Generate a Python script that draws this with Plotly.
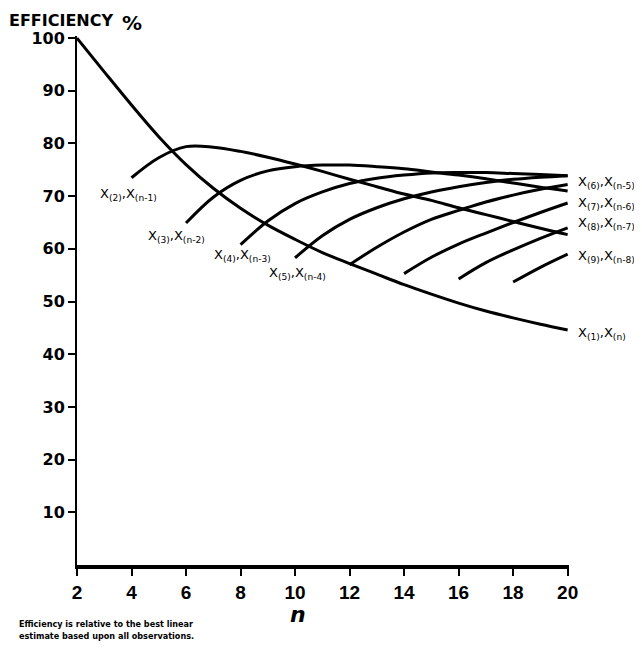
import plotly.graph_objects as go

# ---- data ----
n_x1 = list(range(2, 21))
eff_x1 = [100, 93.6, 87.3, 81.3, 76.0, 71.5, 67.7, 64.5, 61.8, 59.3, 57.2, 55.2,
          53.2, 51.4, 49.7, 48.2, 46.9, 45.7, 44.6]
n_x2 = list(range(4, 21))
eff_x2 = [73.5, 77.3, 79.4, 79.3, 78.5, 77.4, 76.1, 74.7, 73.2, 71.8, 70.4, 69.2,
          67.8, 66.5, 65.2, 63.9, 62.7]
n_x3 = list(range(6, 21))
eff_x3 = [64.9, 69.8, 73.0, 74.8, 75.6, 75.9, 75.9, 75.6, 75.2, 74.6, 74.0, 73.3,
          72.5, 71.7, 71.0]
n_x4 = list(range(8, 21))
eff_x4 = [60.8, 65.3, 68.6, 70.8, 72.4, 73.4, 74.0, 74.4, 74.5, 74.5, 74.3, 74.1, 73.9]
n_x5 = list(range(10, 21))
eff_x5 = [58.3, 62.5, 65.6, 67.8, 69.5, 70.8, 71.8, 72.6, 73.2, 73.6, 73.9]
n_x6 = list(range(12, 21))
eff_x6 = [57.0, 60.3, 63.2, 65.6, 67.3, 68.9, 70.2, 71.3, 72.2]
n_x7 = list(range(14, 21))
eff_x7 = [55.3, 58.4, 60.9, 63.0, 65.0, 66.9, 68.7]
n_x8 = list(range(16, 21))
eff_x8 = [54.3, 57.4, 59.8, 62.0, 64.0]
n_x9 = list(range(18, 21))
eff_x9 = [53.7, 56.5, 59.0]

series_names = ["X(1),X(n)", "X(2),X(n-1)", "X(3),X(n-2)", "X(4),X(n-3)", "X(5),X(n-4)",
                "X(6),X(n-5)", "X(7),X(n-6)", "X(8),X(n-7)", "X(9),X(n-8)"]

x_ticks = [2, 4, 6, 8, 10, 12, 14, 16, 18, 20]
y_ticks = [10, 20, 30, 40, 50, 60, 70, 80, 90, 100]

series = [(n_x1, eff_x1), (n_x2, eff_x2), (n_x3, eff_x3), (n_x4, eff_x4), (n_x5, eff_x5),
          (n_x6, eff_x6), (n_x7, eff_x7), (n_x8, eff_x8), (n_x9, eff_x9)]

fig = go.Figure()
for (xs, ys), name in zip(series, series_names):
    fig.add_trace(go.Scatter(x=xs, y=ys, mode="lines", name=name,
                             line=dict(color="black", width=3, shape="spline", smoothing=1.0),
                             showlegend=False))

LF = "DejaVu Sans"
lab = dict(family=LF, size=13, color="black")

def sublabel(a, b):
    return "X<sub>(%s)</sub>,X<sub>(%s)</sub>" % (a, b)

# curve labels (left group)
left_labels = [("2", "n-1", 3.9, 70.3), ("3", "n-2", 5.66, 62.4),
               ("4", "n-3", 8.08, 58.8), ("5", "n-4", 10.1, 55.4)]
for a, b, xx, yy in left_labels:
    fig.add_annotation(x=xx, y=yy, xref="x", yref="y", text=sublabel(a, b), showarrow=False,
                       font=lab, xanchor="center", yanchor="middle")

# curve labels (right group)
right_labels = [("6", "n-5", 72.6), ("7", "n-6", 68.6), ("8", "n-7", 64.8),
                ("9", "n-8", 58.6), ("1", "n", 43.9)]
for a, b, yy in right_labels:
    fig.add_annotation(x=1.014, y=yy, xref="paper", yref="y", text=sublabel(a, b),
                       showarrow=False, font=lab, xanchor="left", yanchor="middle")

# title
fig.add_annotation(x=-0.142, y=1.051, xref="paper", yref="paper",
                   text="<b>EFFICIENCY</b>",
                   showarrow=False, xanchor="left", yanchor="top",
                   font=dict(family="DejaVu Sans", size=16, color="black"))
fig.add_annotation(x=0.088, y=1.051, xref="paper", yref="paper",
                   text="<b>%</b>",
                   showarrow=False, xanchor="left", yanchor="top",
                   font=dict(family="DejaVu Sans", size=20, color="black"))
# axis title n
fig.add_annotation(x=10.1, y=-0.093, xref="x", yref="paper", text="<b><i>n</i></b>",
                   showarrow=False, xanchor="center", yanchor="middle",
                   font=dict(family="DejaVu Sans", size=22, color="black"))
# footnote
fig.add_annotation(x=-0.122, y=-0.099, xref="paper", yref="paper",
                   text="<b>Efficiency is relative to the best linear<br>estimate based upon all observations.</b>",
                   showarrow=False, xanchor="left", yanchor="top", align="left",
                   font=dict(family="Liberation Sans Narrow, DejaVu Sans Condensed, DejaVu Sans",
                             size=9, color="black"))

fig.update_xaxes(range=[2, 20.05], tickvals=x_ticks, ticktext=[str(t) for t in x_ticks],
                 showgrid=False, zeroline=False, showline=True, linecolor="black", linewidth=4,
                 ticks="outside", ticklen=7, tickwidth=2, tickcolor="black",
                 tickfont=dict(family="Liberation Sans", size=19, color="black", weight="bold"))
fig.update_yaxes(range=[0, 100.4], tickvals=y_ticks, ticktext=[str(t) for t in y_ticks],
                 showgrid=False, zeroline=False, showline=True, linecolor="black", linewidth=2,
                 ticks="outside", ticklen=7, tickwidth=2, tickcolor="black",
                 tickfont=dict(family="DejaVu Sans", size=16, color="black", weight="bold"))

fig.update_layout(width=634, height=643, margin=dict(l=69, r=73, t=28, b=86),
                  paper_bgcolor="white", plot_bgcolor="white", showlegend=False)

fig.write_html("out.html")
